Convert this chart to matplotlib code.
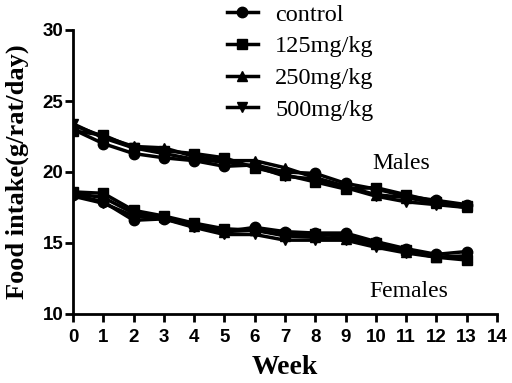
import matplotlib
matplotlib.use("Agg")
import matplotlib.pyplot as plt
import numpy as np

weeks = list(range(14))
labels = ["control", "125mg/kg", "250mg/kg", "500mg/kg"]
markers = ["o", "s", "^", "v"]

males_control = [23.0, 22.0, 21.3, 21.0, 20.8, 20.4, 20.5, 20.0, 19.9, 19.2, 18.8, 18.3, 18.0, 17.7]
males_125 = [22.9, 22.6, 21.7, 21.5, 21.3, 21.0, 20.3, 19.8, 19.3, 18.8, 18.9, 18.4, 17.9, 17.6]
males_250 = [23.3, 22.5, 21.8, 21.7, 21.1, 20.8, 20.8, 20.3, 19.6, 19.0, 18.4, 18.2, 17.8, 17.5]
males_500 = [23.4, 22.4, 21.7, 21.3, 20.9, 20.7, 20.4, 19.7, 19.5, 18.9, 18.3, 17.9, 17.7, 17.5]

females_control = [18.4, 17.9, 16.6, 16.7, 16.2, 15.8, 16.1, 15.8, 15.7, 15.7, 15.1, 14.6, 14.2, 14.4]
females_125 = [18.6, 18.5, 17.3, 16.9, 16.4, 16.0, 15.9, 15.6, 15.6, 15.5, 15.0, 14.5, 14.0, 13.8]
females_250 = [18.5, 18.2, 17.1, 16.8, 16.2, 15.8, 15.9, 15.5, 15.4, 15.3, 14.9, 14.4, 14.0, 14.0]
females_500 = [18.3, 17.8, 16.9, 16.7, 16.1, 15.6, 15.6, 15.2, 15.2, 15.2, 14.7, 14.3, 14.0, 14.1]

males = [males_control, males_125, males_250, males_500]
females = [females_control, females_125, females_250, females_500]

fig = plt.figure(figsize=(5.12, 3.83), dpi=100)
ax = fig.add_axes([73/512, 1-314/383, (497-73)/512, (314-30)/383])

handles = []
for lab, mk, m, f in zip(labels, markers, males, females):
    h, = ax.plot(weeks, m, color="black", lw=2.5, marker=mk, ms=7.5, label=lab)
    ax.plot(weeks, f, color="black", lw=2.5, marker=mk, ms=7.5)
    handles.append(h)

ax.set_xlim(0, 14)
ax.set_ylim(10, 30)
ax.set_xticks(range(15))
ax.set_yticks([10, 15, 20, 25, 30])
for s in ["top", "right"]:
    ax.spines[s].set_visible(False)
for s in ["left", "bottom"]:
    ax.spines[s].set_linewidth(2)
ax.tick_params(direction="out", length=6, width=2)
ax.tick_params(axis="x", pad=5)
ax.tick_params(axis="y", pad=1)
for t in ax.get_xticklabels() + ax.get_yticklabels():
    t.set_fontfamily("Liberation Sans")
    t.set_fontweight("bold")
    t.set_fontsize(13.5)

ax.set_xlabel("Week", fontfamily="Liberation Serif", fontweight="bold", fontsize=20, labelpad=6)
ax.set_ylabel("Food intake(g/rat/day)", fontfamily="Liberation Serif", fontweight="bold", fontsize=19, labelpad=10)

ax.text(9.9, 20.6, "Males", fontfamily="Liberation Serif", fontsize=17, va="center", ha="left")
ax.text(9.8, 11.6, "Females", fontfamily="Liberation Serif", fontsize=17, va="center", ha="left")

leg = fig.legend(handles=handles, loc="upper left", bbox_to_anchor=(212/512, 1 + 11/383),
                 frameon=False, prop={"family": "Liberation Serif", "size": 17.5},
                 handlelength=1.3, handletextpad=0.7, labelspacing=0.4, borderpad=0.1)

fig.savefig("out.png", dpi=100)
